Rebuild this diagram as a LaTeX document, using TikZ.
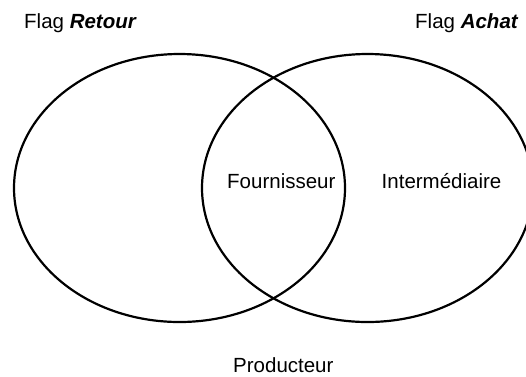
\documentclass[tikz,border=0pt]{standalone}
\usepackage{fontspec}
\setmainfont{Liberation Sans}
\usetikzlibrary{shapes.geometric}
\begin{document}
\begin{tikzpicture}[x=1pt,y=-1pt,
  lbl/.style={anchor=base west,inner sep=0pt,font=\fontsize{20.5}{24}\selectfont},
  setline/.style={draw=black,line width=2.2pt}]
\useasboundingbox (0,0) rectangle (526,376);
\begin{scope}
\clip (0,0) rectangle (526,376);
\node[setline,ellipse,minimum width=331,minimum height=268,inner sep=0pt] (retour) at (179.5,188) {};
\node[setline,ellipse,minimum width=331,minimum height=268,inner sep=0pt] (achat) at (367.5,188) {};
\end{scope}
\node[lbl] (fr) at (24,28) {Flag \textbf{\textit{Retour}}};
\node[lbl] (fa) at (415,28) {Flag \textbf{\textit{Achat}}};
\node[lbl] (four) at (227,188) {Fournisseur};
\node[lbl] (inter) at (381.5,188) {Intermédiaire};
\node[lbl] (prod) at (233,372.5) {Producteur};
\end{tikzpicture}
\end{document}
